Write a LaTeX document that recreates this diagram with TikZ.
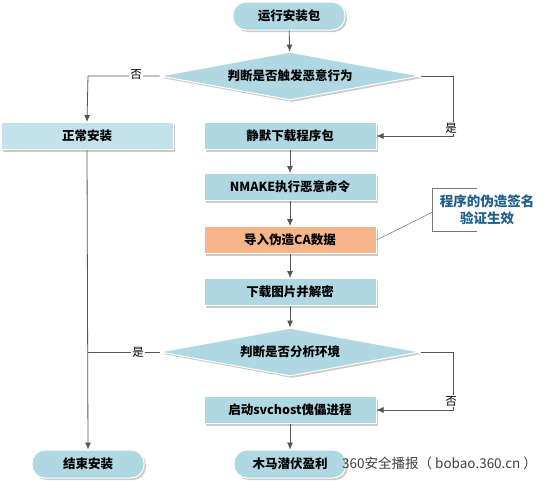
\documentclass[tikz,border=0pt]{standalone}
\usepackage{fontspec}
\setmainfont{Liberation Sans}
\newfontfamily\cjk{Noto Sans CJK SC}
\usetikzlibrary{shapes.geometric,shadows,arrows.meta}
\definecolor{boxblue}{RGB}{176,216,226}
\definecolor{lightblue}{RGB}{196,226,234}
\definecolor{boxorange}{RGB}{246,182,138}
\definecolor{linegray}{RGB}{85,85,85}
\definecolor{calltext}{RGB}{30,95,140}
\tikzset{
  base/.style={font=\cjk\bfseries\fontsize{12.5}{14}\selectfont, text=black, draw=white, line width=1pt,
    drop shadow={shadow xshift=2pt, shadow yshift=-2pt, opacity=0.4, fill=gray}},
  proc/.style={base, rectangle, fill=boxblue, minimum width=172pt, minimum height=27pt},
  term/.style={base, rectangle, rounded corners=13pt, fill=boxblue, minimum width=112pt, minimum height=28pt},
  decision/.style={base, diamond, fill=boxblue, aspect=5.4, inner sep=0pt, minimum width=260pt, minimum height=48pt},
  conn/.style={draw=linegray, line width=0.8pt},
  arr/.style={conn, -{Latex[length=7pt,width=6pt]}},
  lab/.style={font=\cjk\fontsize{11.5}{12}\selectfont, fill=white, inner sep=1pt, text=black}
}
\begin{document}
\begin{tikzpicture}[x=1pt,y=-1pt]
\useasboundingbox[fill=white] (0,0) rectangle (551,480);
% nodes
\node[term] (start) at (289,16) {运行安装包};
\node[decision] (d1) at (290,76) {判断是否触发恶意行为};
\node[proc, fill=lightblue] (normal) at (87,136) {正常安装};
\node[proc] (silent) at (290,136) {静默下载程序包};
\node[proc] (nmake) at (290,187) {NMAKE执行恶意命令};
\node[proc, fill=boxorange] (ca) at (290,240) {导入伪造CA数据};
\node[proc] (img) at (290,292) {下载图片并解密};
\node[decision] (d2) at (290,352) {判断是否分析环境};
\node[proc] (svc) at (290,410) {启动svchost傀儡进程};
\node[term] (endi) at (88,464) {结束安装};
\node[term] (profit) at (290,464) {木马潜伏盈利};
\node[font=\cjk\bfseries\fontsize{13.5}{17}\selectfont, text=calltext, align=center,
      minimum width=108pt, minimum height=42pt, inner sep=0pt] (note) at (487,210) {程序的伪造签名\\验证生效};
\node[font=\cjk\fontsize{13.5}{15}\selectfont, text=black!75, anchor=west, inner sep=0pt] (wm) at (342,463) {360安全播报（ bobao.360.cn ）};
% bend points
\coordinate (l1) at (88,76);
\coordinate (r1) at (453,76);
\coordinate (r1b) at (453,136);
\coordinate (l2) at (88,352);
\coordinate (r2) at (453,352);
\coordinate (r2b) at (453,410);
% connectors
\draw[arr] (start) -- (d1);
\draw[arr] (d1.west) -- (l1) -- (normal.north);
\draw[arr] (d1.east) -- (r1) -- (r1b) -- (silent.east);
\draw[arr] (silent) -- (nmake);
\draw[arr] (nmake) -- (ca);
\draw[arr] (ca) -- (img);
\draw[arr] (img) -- (d2);
\draw[arr] (normal.south) -- (endi.north);
\draw[conn] (d2.west) -- (l2);
\draw[arr] (d2.east) -- (r2) -- (r2b) -- (svc.east);
\draw[arr] (svc) -- (profit);
% callout
\draw[conn, draw=linegray!80] ([xshift=44pt]note.north west) -- (note.north west) -- (note.south west) -- ([xshift=44pt]note.south west);
\draw[conn, draw=gray, line width=0.6pt] ([yshift=-2pt]note.west) -- (ca.east);
% labels
\node[lab] at (136,74) {否};
\node[lab] at (451,128) {是};
\node[lab] at (138,352) {是};
\node[lab] at (451,401) {否};
\end{tikzpicture}
\end{document}
